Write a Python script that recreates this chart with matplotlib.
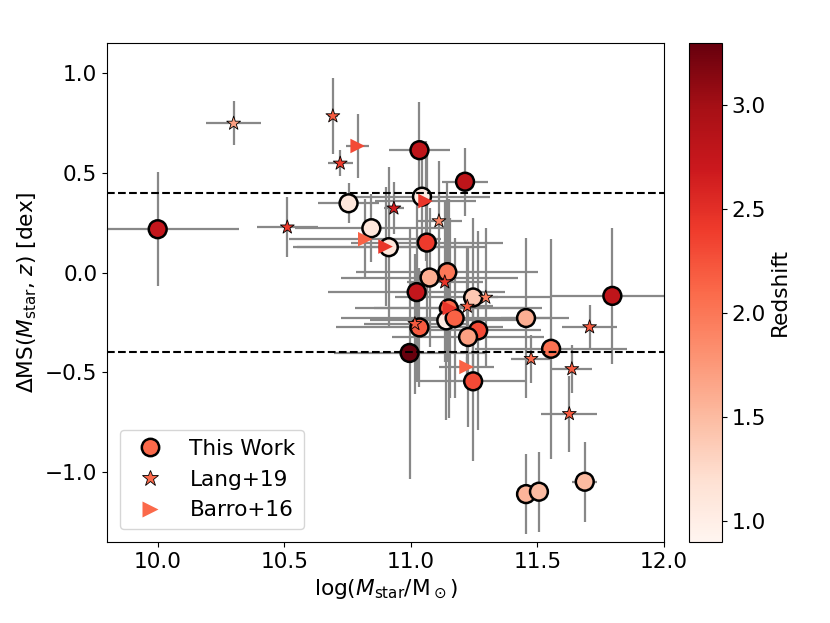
import matplotlib
matplotlib.use("Agg")
import matplotlib.pyplot as plt
import matplotlib.colors as mcolors
from matplotlib.lines import Line2D
import numpy as np

# ---------------- data ----------------
# This Work
tw_mass = [10.00, 10.754, 10.844, 10.913, 11.034, 11.214, 11.044, 11.063, 11.144, 11.074,
           11.023, 11.246, 11.150, 11.140, 11.173, 11.455, 11.034, 11.266, 11.226, 11.796,
           11.554, 10.995, 11.246, 11.455, 11.506, 11.687]
tw_dms = [0.217, 0.347, 0.222, 0.127, 0.613, 0.455, 0.380, 0.150, 0.002, -0.025,
          -0.098, -0.125, -0.180, -0.240, -0.228, -0.228, -0.275, -0.290, -0.323, -0.117,
          -0.382, -0.403, -0.545, -1.110, -1.098, -1.048]
tw_z = [2.75, 1.10, 1.10, 1.10, 2.80, 2.80, 1.05, 2.40, 2.00, 1.60,
        2.75, 1.40, 2.10, 1.05, 2.15, 1.60, 2.20, 2.30, 1.70, 2.80,
        2.05, 3.30, 2.30, 1.55, 1.50, 1.50]
tw_xerr = [0.32, 0.12, 0.30, 0.38, 0.12, 0.09, 0.27, 0.30, 0.36, 0.35,
           0.35, 0.31, 0.37, 0.30, 0.45, 0.10, 0.33, 0.25, 0.30, 0.24,
           0.30, 0.30, 0.21, 0.04, 0.03, 0.05]
tw_yerr = [0.285, 0.10, 0.17, 0.40, 0.24, 0.17, 0.25, 0.45, 0.45, 0.35,
           0.45, 0.40, 0.55, 0.50, 0.40, 0.40, 0.30, 0.50, 0.45, 0.34,
           0.55, 0.63, 0.40, 0.20, 0.20, 0.20]

# Lang+19
lang_mass = [10.30, 10.692, 10.721, 10.512, 10.933, 11.111, 11.134, 11.296, 11.223, 11.016,
             11.706, 11.475, 11.636, 11.626]
lang_dms = [0.747, 0.784, 0.547, 0.227, 0.322, 0.258, -0.048, -0.125, -0.170, -0.257,
            -0.273, -0.432, -0.483, -0.708]
lang_z = [1.70, 2.20, 2.40, 2.40, 2.65, 1.90, 2.45, 1.95, 2.20, 2.20,
          2.20, 2.10, 2.20, 2.20]
lang_xerr = [0.11, 0.02, 0.05, 0.12, 0.04, 0.09, 0.15, 0.05, 0.10, 0.20,
             0.11, 0.08, 0.08, 0.11]
lang_yerr = [0.11, 0.19, 0.065, 0.15, 0.13, 0.30, 0.40, 0.35, 0.30, 0.35,
             0.11, 0.12, 0.12, 0.19]

# Barro+16
barro_mass = [10.79, 10.82, 10.90, 11.058, 11.154, 11.22]
barro_dms = [0.634, 0.167, 0.130, 0.358, -0.178, -0.473]
barro_z = [2.30, 2.15, 2.45, 2.45, 2.45, 2.15]
barro_xerr = [0.046, 0.30, 0.35, 0.20, 0.30, 0.11]
barro_yerr = [0.16, 0.20, 0.30, 0.30, 0.45, 0.05]

ms_band = [0.4, -0.4]
z_min, z_max = 0.9, 3.3
cbar_ticks = [1.0, 1.5, 2.0, 2.5, 3.0]

# ---------------- plot ----------------
FS = 15.6
plt.rcParams['font.size'] = FS

fig = plt.figure(figsize=(8.3, 6.23), dpi=100)
ax = fig.add_axes([0.129, 0.130, 0.671, 0.801])
cax = fig.add_axes([0.830, 0.130, 0.040, 0.801])

cmap = plt.get_cmap('Reds')
norm = mcolors.Normalize(vmin=z_min, vmax=z_max)

ecol = '#888888'
ax.errorbar(tw_mass, tw_dms, xerr=tw_xerr, yerr=tw_yerr, fmt='none',
            ecolor=ecol, elinewidth=1.6, zorder=1)
ax.errorbar(lang_mass, lang_dms, xerr=lang_xerr, yerr=lang_yerr, fmt='none',
            ecolor=ecol, elinewidth=1.6, zorder=1)
ax.errorbar(barro_mass, barro_dms, xerr=barro_xerr, yerr=barro_yerr, fmt='none',
            ecolor=ecol, elinewidth=1.6, zorder=1)

sc = ax.scatter(tw_mass, tw_dms, c=tw_z, cmap=cmap, norm=norm, s=165,
                edgecolors='black', linewidths=1.8, zorder=3)
ax.scatter(lang_mass, lang_dms, c=lang_z, cmap=cmap, norm=norm, s=110, marker='*',
           edgecolors='black', linewidths=0.6, zorder=4)
ax.scatter(barro_mass, barro_dms, c=barro_z, cmap=cmap, norm=norm, s=110, marker='>',
           edgecolors='none', zorder=4)

for yv in ms_band:
    ax.axhline(yv, color='black', linestyle='--', linewidth=1.5, zorder=5)

ax.set_xlim(9.8, 12.0)
ax.set_ylim(-1.35, 1.15)
ax.set_xticks([10.0, 10.5, 11.0, 11.5, 12.0])
ax.set_yticks([-1.0, -0.5, 0.0, 0.5, 1.0])
ax.tick_params(labelsize=FS)
ax.set_xlabel(r'log($M_{\rm star}$/M$_\odot$)', fontsize=FS)
ax.set_ylabel(r'$\Delta$MS($M_{\rm star}$, $z$) [dex]', fontsize=FS)

lc = cmap(0.5)
handles = [
    Line2D([], [], linestyle='none', marker='o', markersize=12.5, markerfacecolor=lc,
           markeredgecolor='black', markeredgewidth=1.8),
    Line2D([], [], linestyle='none', marker='*', markersize=12, markerfacecolor=lc,
           markeredgecolor='black', markeredgewidth=0.6),
    Line2D([], [], linestyle='none', marker='>', markersize=11, markerfacecolor=lc,
           markeredgecolor='none'),
]
ax.legend(handles, ['This Work', 'Lang+19', 'Barro+16'], loc='lower left',
          fontsize=FS, borderaxespad=0.6, handletextpad=0.8)

cb = fig.colorbar(sc, cax=cax)
cb.set_ticks(cbar_ticks)
cb.ax.tick_params(labelsize=FS)
cb.set_label('Redshift', fontsize=FS, labelpad=3)

fig.savefig('out.png', dpi=100)
